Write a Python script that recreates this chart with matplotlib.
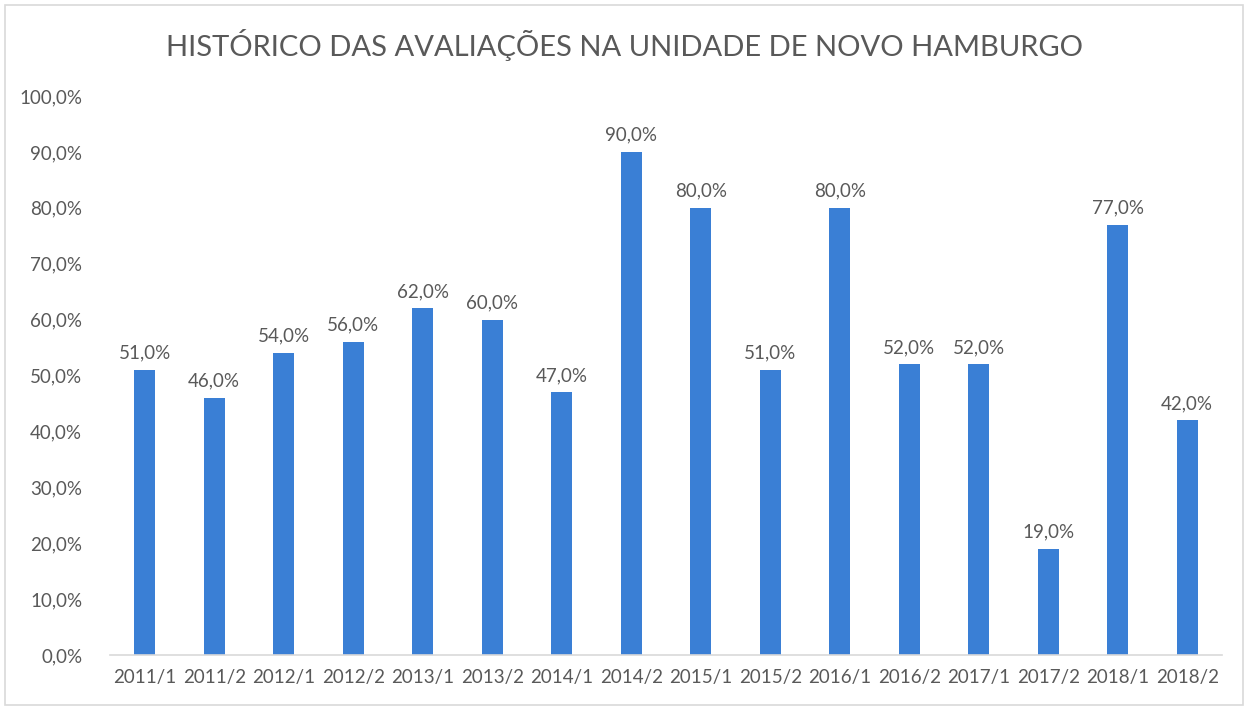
import matplotlib
matplotlib.use("Agg")
import matplotlib.pyplot as plt
from matplotlib.patches import Rectangle

categories = ["2011/1", "2011/2", "2012/1", "2012/2", "2013/1", "2013/2", "2014/1", "2014/2",
              "2015/1", "2015/2", "2016/1", "2016/2", "2017/1", "2017/2", "2018/1", "2018/2"]
values = [51, 46, 54, 56, 62, 60, 47, 90, 80, 51, 80, 52, 52, 19, 77, 42]
y_ticks = [0, 10, 20, 30, 40, 50, 60, 70, 80, 90, 100]
title = "HISTÓRICO DAS AVALIAÇÕES NA UNIDADE DE NOVO HAMBURGO"

def fmt(v):
    return f"{v:.1f}".replace(".", ",") + "%"

plt.rcParams['font.family'] = ['Lato', 'DejaVu Sans']
text_color = "#595959"
bar_color = "#3A7FD5"

fig = plt.figure(figsize=(12.48, 7.10), dpi=100)
fig.patches.append(Rectangle((5/1248, 5/710), 1-10/1248, 1-10/710, transform=fig.transFigure,
                             fill=False, edgecolor="#d9d9d9", linewidth=1.2))
ax = fig.add_axes([110/1248, 1-655/710, (1222-110)/1248, (655-96)/710])

x = list(range(len(categories)))
bars = ax.bar(x, values, width=0.30, color=bar_color)
for xi, v in zip(x, values):
    ax.annotate(fmt(v), (xi, v), xytext=(0, 6), textcoords="offset points",
                ha="center", va="bottom", fontsize=13.5, color=text_color)

ax.set_xlim(-0.5, len(categories) - 0.5)
ax.set_ylim(0, 100)
ax.set_yticks(y_ticks)
ax.set_yticklabels([fmt(t) for t in y_ticks], fontsize=13.5, color=text_color)
ax.set_xticks(x)
ax.set_xticklabels(categories, fontsize=13.5, color=text_color)
ax.tick_params(axis="both", length=0)
ax.tick_params(axis="y", pad=20)
ax.tick_params(axis="x", pad=10)
for s in ["top", "right", "left"]:
    ax.spines[s].set_visible(False)
ax.spines["bottom"].set_color("#d9d9d9")
ax.spines["bottom"].set_linewidth(1.2)

fig.text(0.5, 1-45/710, title, ha="center", va="center", fontsize=21, color=text_color)

fig.savefig("out.png", dpi=100)
